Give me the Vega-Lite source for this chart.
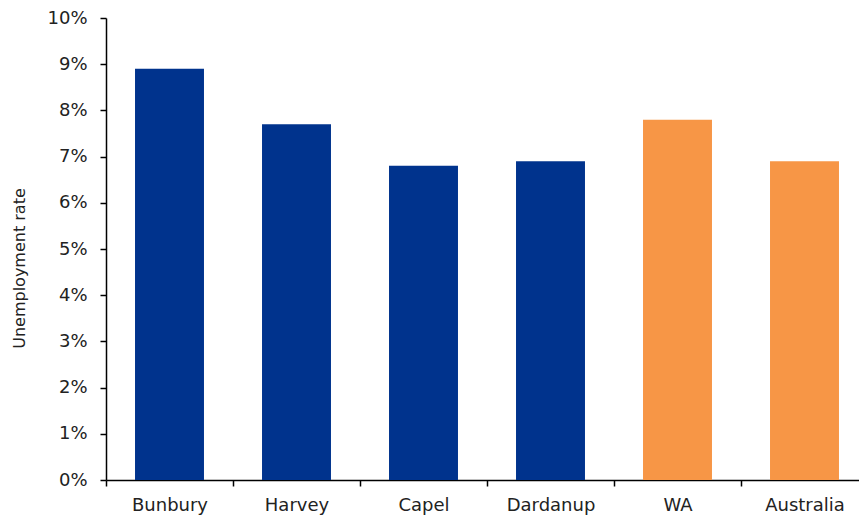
{
  "$schema": "https://vega.github.io/schema/vega-lite/v6.json",
  "autosize": {"type": "none"},
  "padding": {"left": 106, "top": 18, "right": 0, "bottom": 40},
  "width": 753,
  "height": 462,
  "background": "white",
  "config": {
    "view": {"stroke": null},
    "font": "DejaVu Sans"
  },
  "data": {
    "values": [
      {"region": "Bunbury", "rate": 0.089, "level": "Local"},
      {"region": "Harvey", "rate": 0.077, "level": "Local"},
      {"region": "Capel", "rate": 0.068, "level": "Local"},
      {"region": "Dardanup", "rate": 0.069, "level": "Local"},
      {"region": "WA", "rate": 0.078, "level": "Benchmark"},
      {"region": "Australia", "rate": 0.069, "level": "Benchmark"}
    ]
  },
  "mark": {"type": "bar", "width": {"band": 0.543}},
  "encoding": {
    "x": {
      "field": "region",
      "type": "nominal",
      "sort": null,
      "title": null,
      "scale": {"range": [0, 762], "paddingInner": 0, "paddingOuter": 0},
      "axis": {
        "tickBand": "extent",
        "labelAngle": 0,
        "labelFontSize": 18,
        "labelColor": "#222222",
        "labelPadding": 10,
        "tickSize": 6,
        "tickColor": "#000000",
        "tickWidth": 1.5,
        "domainColor": "#000000",
        "domainWidth": 1.5,
        "grid": false
      }
    },
    "y": {
      "field": "rate",
      "type": "quantitative",
      "title": "Unemployment rate",
      "scale": {"domain": [0, 0.1], "nice": false},
      "axis": {
        "values": [0, 0.01, 0.02, 0.03, 0.04, 0.05, 0.06, 0.07, 0.08, 0.09, 0.1],
        "format": ".0%",
        "grid": false,
        "labelFontSize": 18,
        "labelColor": "#222222",
        "labelPadding": 13,
        "tickSize": 6,
        "tickColor": "#000000",
        "tickWidth": 1.5,
        "domainColor": "#000000",
        "domainWidth": 1.5,
        "titleFontSize": 16,
        "titleFontWeight": "normal",
        "titleColor": "#222222",
        "titleX": -87,
        "titleY": 250,
        "titleAlign": "center",
        "titleBaseline": "middle",
        "titleAngle": -90
      }
    },
    "color": {
      "field": "level",
      "type": "nominal",
      "scale": {"domain": ["Local", "Benchmark"], "range": ["#00338D", "#F79646"]},
      "legend": null
    }
  }
}
